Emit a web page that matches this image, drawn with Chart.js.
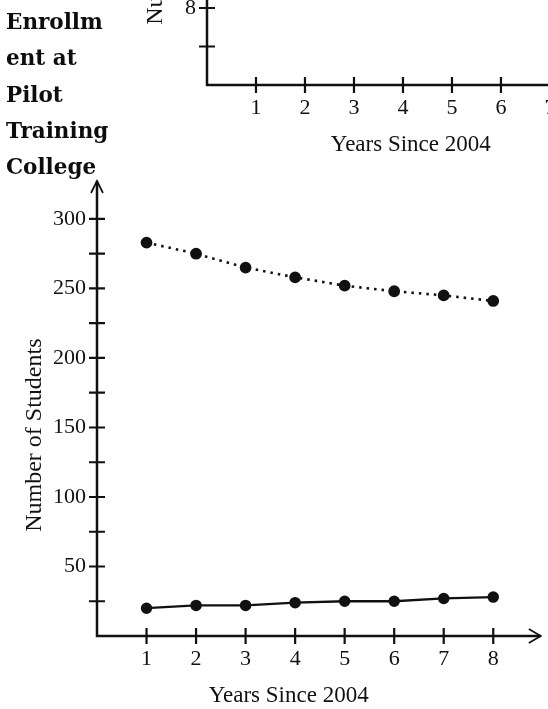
<!DOCTYPE html>
<html>
<head>
<meta charset="utf-8">
<script src="https://cdn.jsdelivr.net/npm/chart.js@4"></script>
<style>
  html, body { margin: 0; padding: 0; background: #fff; }
  body { width: 548px; height: 709px; position: relative; overflow: hidden; }
  #topWrap { position: absolute; left: 0; top: -220px; width: 548px; height: 380px; }
  #mainWrap { position: absolute; left: 0; top: 0; width: 548px; height: 709px; }
  #side {
    position: absolute; left: 6px; top: 4px;
    font-family: "DejaVu Serif", serif; font-weight: bold; font-size: 21.5px;
    line-height: 36.3px; color: #0d0d0d;
  }
</style>
</head>
<body>
<div id="topWrap"><canvas id="topChart"></canvas></div>
<div id="mainWrap"><canvas id="mainChart"></canvas></div>
<div id="side">Enrollm<br>ent at<br>Pilot<br>Training<br>College</div>
<script>
// main chart data
const years = [1, 2, 3, 4, 5, 6, 7, 8];
const dottedSeries = [283, 275, 265, 258, 252, 248, 245, 241];
const solidSeries = [20, 22, 22, 24, 25, 25, 27, 28];
const xTickValues = [1, 2, 3, 4, 5, 6, 7, 8];
const yTickValues = [25, 50, 75, 100, 125, 150, 175, 200, 225, 250, 275, 300];
const yLabelValues = [50, 100, 150, 200, 250, 300];

// the chart cut off at the top of the page
const topXTickValues = [1, 2, 3, 4, 5, 6, 7];
const topYTickValues = [4, 8, 12, 16, 20, 24, 28];
const topYLabelValues = [8, 16, 24];

const ink = '#111';
const serif = "'Liberation Serif', 'Times New Roman', serif";

function axesPlugin(cfg) {
    return {
        id: 'axes_' + cfg.name,
        afterDraw(chart) {
            const ctx = chart.ctx;
            const a = chart.chartArea;
            const xs = chart.scales.x, ys = chart.scales.y;
            ctx.save();
            ctx.strokeStyle = ink;
            ctx.lineWidth = 2.5;
            ctx.lineCap = 'butt';
            // axis lines
            ctx.beginPath();
            ctx.moveTo(a.left, a.top);
            ctx.lineTo(a.left, a.bottom);
            ctx.lineTo(a.right, a.bottom);
            ctx.stroke();
            // ticks crossing the axes
            ctx.lineWidth = 2.2;
            ctx.beginPath();
            cfg.xTicks.forEach(function (v) {
                const px = xs.getPixelForValue(v);
                ctx.moveTo(px, a.bottom - 8);
                ctx.lineTo(px, a.bottom + 8);
            });
            cfg.yTicks.forEach(function (v) {
                const py = ys.getPixelForValue(v);
                ctx.moveTo(a.left - 8, py);
                ctx.lineTo(a.left + 8, py);
            });
            ctx.stroke();
            // open arrow heads
            if (cfg.arrows) {
                ctx.lineWidth = 1.7;
                ctx.beginPath();
                ctx.moveTo(a.left - 6, a.top + 12);
                ctx.lineTo(a.left, a.top);
                ctx.lineTo(a.left + 6, a.top + 12);
                ctx.moveTo(a.right - 12, a.bottom - 7);
                ctx.lineTo(a.right, a.bottom);
                ctx.lineTo(a.right - 12, a.bottom + 7);
                ctx.stroke();
            }
            // axis titles
            ctx.fillStyle = ink;
            ctx.textAlign = 'center';
            ctx.textBaseline = 'middle';
            ctx.font = cfg.xTitleSize + 'px ' + serif;
            ctx.fillText('Years Since 2004', xs.getPixelForValue(cfg.xTitleAt), a.bottom + cfg.xTitleGap);
            ctx.font = cfg.yTitleSize + 'px ' + serif;
            ctx.translate(cfg.yTitleX, ys.getPixelForValue(cfg.yTitleAt));
            ctx.rotate(-Math.PI / 2);
            ctx.fillText('Number of Students', 0, 0);
            ctx.restore();
        }
    };
}

function tickFont() {
    return { family: serif, size: 22 };
}

// main chart
new Chart(document.getElementById('mainChart'), {
    type: 'line',
    data: {
        datasets: [{
            label: 'dotted',
            data: years.map(function (x, i) { return { x: x, y: dottedSeries[i] }; }),
            borderColor: ink,
            backgroundColor: ink,
            borderWidth: 2.6,
            borderDash: [2.5, 5],
            pointRadius: 4.6,
            pointHoverRadius: 4.6,
            tension: 0
        }, {
            label: 'solid',
            data: years.map(function (x, i) { return { x: x, y: solidSeries[i] }; }),
            borderColor: ink,
            backgroundColor: ink,
            borderWidth: 2.3,
            pointRadius: 4.6,
            pointHoverRadius: 4.6,
            tension: 0
        }]
    },
    options: {
        responsive: true,
        maintainAspectRatio: false,
        animation: false,
        events: [],
        layout: { padding: { top: 181, right: 3, bottom: 0, left: 0 } },
        plugins: { legend: { display: false }, tooltip: { enabled: false } },
        scales: {
            x: {
                type: 'linear',
                min: 0,
                max: 8.96,
                grid: { display: false },
                border: { display: false },
                afterBuildTicks: function (s) { s.ticks = xTickValues.map(function (v) { return { value: v }; }); },
                afterFit: function (s) { s.height = 73; },
                ticks: { color: ink, font: tickFont(), padding: 2, maxRotation: 0, autoSkip: false }
            },
            y: {
                type: 'linear',
                min: 0,
                max: 327.3,
                grid: { display: false },
                border: { display: false },
                afterBuildTicks: function (s) { s.ticks = yTickValues.map(function (v) { return { value: v }; }); },
                afterFit: function (s) { s.width = 97; },
                ticks: {
                    color: ink, font: tickFont(), padding: 3, autoSkip: false,
                    callback: function (value) { return yLabelValues.indexOf(value) >= 0 ? String(value) : ''; }
                }
            }
        }
    },
    plugins: [axesPlugin({
        name: 'main', xTicks: xTickValues, yTicks: yTickValues, arrows: true,
        xTitleSize: 23, yTitleSize: 24, xTitleAt: 3.87, xTitleGap: 60, yTitleX: 35, yTitleAt: 144.5
    })]
});

// top chart (only its lower part is on the page)
new Chart(document.getElementById('topChart'), {
    type: 'line',
    data: { datasets: [] },
    options: {
        responsive: true,
        maintainAspectRatio: false,
        animation: false,
        events: [],
        layout: { padding: { top: 5, right: 0, bottom: 0, left: 0 } },
        plugins: { legend: { display: false }, tooltip: { enabled: false } },
        scales: {
            x: {
                type: 'linear',
                min: 0,
                max: 6.96,
                grid: { display: false },
                border: { display: false },
                afterBuildTicks: function (s) { s.ticks = topXTickValues.map(function (v) { return { value: v }; }); },
                afterFit: function (s) { s.height = 75; s.paddingRight = 0; s.paddingLeft = 0; },
                ticks: { color: ink, font: tickFont(), padding: 2, maxRotation: 0, autoSkip: false }
            },
            y: {
                type: 'linear',
                min: 0,
                max: 30,
                grid: { display: false },
                border: { display: false },
                afterBuildTicks: function (s) { s.ticks = topYTickValues.map(function (v) { return { value: v }; }); },
                afterFit: function (s) { s.width = 207; },
                ticks: {
                    color: ink, font: tickFont(), padding: 3, autoSkip: false,
                    callback: function (value) { return topYLabelValues.indexOf(value) >= 0 ? String(value) : ''; }
                }
            }
        }
    },
    plugins: [axesPlugin({
        name: 'top', xTicks: topXTickValues, yTicks: topYTickValues, arrows: false,
        xTitleSize: 23, yTitleSize: 24, xTitleAt: 4.16, xTitleGap: 60, yTitleX: 156, yTitleAt: 16.3
    })]
});
</script>
</body>
</html>
